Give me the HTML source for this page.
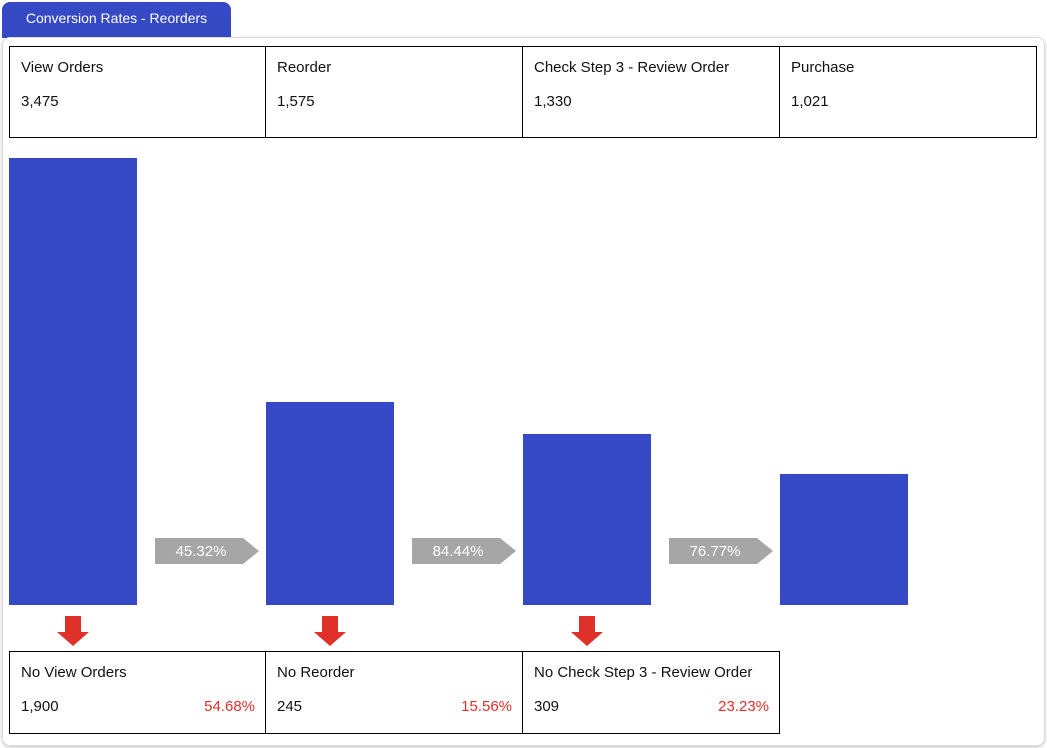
<!DOCTYPE html>
<html><head><meta charset="utf-8"><style>
body{margin:0;width:1047px;height:748px;background:#fff;font-family:"Liberation Sans",sans-serif;position:relative;overflow:hidden}
.abs{position:absolute}
.tab{left:2px;top:2px;width:229px;height:36px;background:#3649c4;border-radius:8px 8px 0 0;color:#fff;font-size:14px;text-align:center;line-height:32px}
.card{left:2px;top:37px;width:1041px;height:707px;border:1px solid #ddd;border-radius:8px;box-shadow:0 1px 3px rgba(0,0,0,.25)}
.cell{position:absolute;box-sizing:border-box;border:1px solid #000;font-size:15px;color:#111}
.cell .t{position:absolute;left:11px;top:12px}
.cell .v{position:absolute;left:11px;top:46px}
.cell .p{position:absolute;right:10px;top:46px;color:#e0302a}
</style></head><body>
<div class="abs tab">Conversion Rates - Reorders</div>
<div class="abs card"></div>
<div id="root"></div>
<script>
const steps=["View Orders","Reorder","Check Step 3 - Review Order","Purchase"];
const values=[3475,1575,1330,1021];
const rates=["45.32%","84.44%","76.77%"];
const dropLabels=["No View Orders","No Reorder","No Check Step 3 - Review Order"];
const dropValues=[1900,245,309];
const dropRates=["54.68%","15.56%","23.23%"];
const root=document.getElementById('root');
const colX=i=>9+i*257, colW=257, base=605, scale=447/3475;
const fmt=n=>n.toLocaleString('en-US');
function mk(tag,cls,style,html){const e=document.createElement(tag);if(cls)e.className=cls;e.style.cssText=style;if(html!=null)e.innerHTML=html;root.appendChild(e);return e;}
steps.forEach((s,i)=>{
  const c=mk('div','cell',`left:${colX(i)-(i?1:0)}px;top:46px;width:${colW+(i?1:0)}px;height:92px`,`<span class="t">${s}</span><span class="v">${fmt(values[i])}</span>`);
  
  
  const h=values[i]*scale;
  const b=mk('div','abs',`left:${colX(i)}px;top:${base-h}px;width:128px;height:${h}px;background:#3649c4`);
  
  
});
rates.forEach((r,i)=>{
  const a=mk('div','abs',`left:${colX(i)+146}px;top:538px;width:104px;height:26px`,`<svg width="104" height="26"><polygon points="0,0 88,0 104,13 88,26 0,26" fill="#a6a6a6"/><text x="46" y="18" text-anchor="middle" fill="#fff" font-size="15" font-family="Liberation Sans">${r}</text></svg>`);
  
  
});
dropLabels.forEach((d,i)=>{
  const cx=colX(i)+64;
  const ar=mk('div','abs',`left:${cx-16}px;top:616px;width:32px;height:30px`,`<svg width="32" height="30"><polygon points="8,0 24,0 24,16 32,16 16,30 0,16 8,16" fill="#e0302a"/></svg>`);
  
  
  const c=mk('div','cell',`left:${colX(i)-(i?1:0)}px;top:651px;width:${colW+(i?1:0)}px;height:83px`,`<span class="t">${d}</span><span class="v">${fmt(dropValues[i])}</span><span class="p">${dropRates[i]}</span>`);
  
  
});
</script>
</body></html>
